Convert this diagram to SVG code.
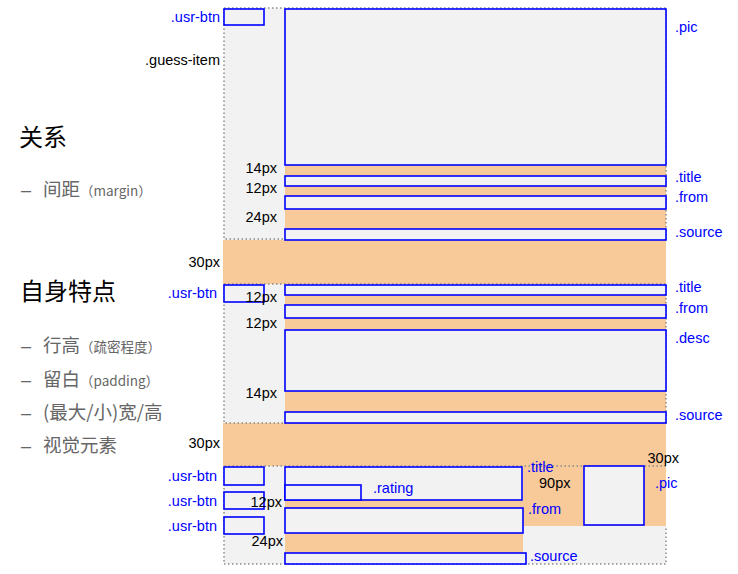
<svg xmlns="http://www.w3.org/2000/svg" width="738" height="574" viewBox="0 0 738 574">
<style>
.bg{fill:#f2f2f2}
.or{fill:#f8ca9a}
.box{fill:#f2f2f2;stroke:#0000ff;stroke-width:1.6}
.dot{fill:none;stroke:#8a8a8a;stroke-width:1.5;stroke-dasharray:1.5 2.5}
.bl{font-family:"Liberation Sans",Arial,sans-serif;font-size:14.5px;fill:#0000ff}
.bk{font-family:"Liberation Sans",Arial,sans-serif;font-size:14.5px;fill:#000}
.h{font-family:"Noto Sans CJK SC","Noto Sans",sans-serif;font-size:24px;fill:#000}
.li{font-family:"Noto Sans CJK SC","Noto Sans",sans-serif;font-size:18.5px;fill:#666}
.da{font-family:"Liberation Sans",Arial,sans-serif;font-size:18px;fill:#666}
.sm{font-size:13.5px}
.e{text-anchor:end}
</style>
<rect width="738" height="574" fill="#fff"/>

<g id="legend">
<text class="h" x="19" y="146">关系</text>
<text class="da" x="21" y="196">–</text>
<text class="li" x="43" y="196">间距<tspan class="sm">（margin）</tspan></text>
<text class="h" x="20" y="300">自身特点</text>
<text class="da" x="21" y="352">–</text>
<text class="li" x="43" y="352">行高<tspan class="sm">（疏密程度）</tspan></text>
<text class="da" x="21" y="386">–</text>
<text class="li" x="43" y="386">留白<tspan class="sm">（padding）</tspan></text>
<text class="da" x="21" y="419">–</text>
<text class="li" x="43" y="419">(最大/小)宽/高</text>
<text class="da" x="21" y="452">–</text>
<text class="li" x="43" y="452">视觉元素</text>
</g>

<g id="margins">
<rect class="or" x="223" y="240" width="443" height="44"/>
<rect class="or" x="223" y="423" width="443" height="43"/>
<text class="bk e" x="220" y="267">30px</text>
<text class="bk e" x="220" y="448">30px</text>
</g>

<g id="item1">
<rect class="bg" x="224" y="8" width="442" height="232"/>
<rect class="or" x="285" y="165" width="381" height="75"/>
<rect class="dot" x="224" y="8" width="442" height="231"/>
<rect class="box" x="224" y="9" width="40" height="16"/>
<rect class="box" x="285" y="9" width="381" height="156"/>
<rect class="box" x="285" y="176" width="381" height="10"/>
<rect class="box" x="285" y="196" width="381" height="13"/>
<rect class="box" x="285" y="229" width="381" height="11"/>
<text class="bl e" x="220" y="22">.usr-btn</text>
<text class="bk e" x="220" y="65">.guess-item</text>
<text class="bl" x="675" y="32">.pic</text>
<text class="bk e" x="277" y="173">14px</text>
<text class="bk e" x="277" y="193">12px</text>
<text class="bk e" x="277" y="222">24px</text>
<text class="bl" x="675" y="182">.title</text>
<text class="bl" x="675" y="202">.from</text>
<text class="bl" x="675" y="237">.source</text>
</g>

<g id="item2">
<rect class="bg" x="224" y="284" width="442" height="139"/>
<rect class="or" x="285" y="295" width="381" height="117"/>
<rect class="dot" x="224" y="284" width="442" height="139"/>
<rect class="box" x="224" y="285" width="40" height="17"/>
<rect class="box" x="285" y="285" width="381" height="10"/>
<rect class="box" x="285" y="305" width="381" height="13"/>
<rect class="box" x="285" y="330" width="381" height="61"/>
<rect class="box" x="285" y="412" width="381" height="11"/>
<text class="bl e" x="217" y="298">.usr-btn</text>
<text class="bk e" x="277" y="302">12px</text>
<text class="bk e" x="277" y="328">12px</text>
<text class="bk e" x="277" y="398">14px</text>
<text class="bl" x="675" y="292">.title</text>
<text class="bl" x="675" y="313">.from</text>
<text class="bl" x="675" y="343">.desc</text>
<text class="bl" x="675" y="420">.source</text>
</g>

<g id="item3">
<rect class="bg" x="224" y="466" width="442" height="98"/>
<rect class="or" x="285" y="500" width="238" height="53"/>
<rect class="or" x="523" y="466" width="143" height="60"/>
<path class="dot" d="M666 466H224V564H666V526"/>
<rect class="box" x="224" y="467" width="40" height="18"/>
<rect class="box" x="224" y="492" width="40" height="17"/>
<rect class="box" x="224" y="517" width="40" height="17"/>
<rect class="box" x="285" y="467" width="237" height="33"/>
<rect class="box" x="285" y="485" width="76" height="15"/>
<rect class="box" x="285" y="508" width="238" height="25"/>
<rect class="box" x="285" y="553" width="241" height="11"/>
<rect class="box" x="584" y="466" width="60" height="59"/>
<text class="bl e" x="217" y="481">.usr-btn</text>
<text class="bl e" x="217" y="506">.usr-btn</text>
<text class="bl e" x="217" y="531">.usr-btn</text>
<text class="bk e" x="282" y="507">12px</text>
<text class="bk e" x="283" y="546">24px</text>
<text class="bl" x="373" y="493">.rating</text>
<text class="bl" x="527" y="472">.title</text>
<text class="bk" x="539" y="488">90px</text>
<text class="bl" x="528" y="514">.from</text>
<text class="bl" x="530" y="561">.source</text>
<text class="bl" x="655" y="488">.pic</text>
<text class="bk e" x="679" y="463">30px</text>
</g>
</svg>
